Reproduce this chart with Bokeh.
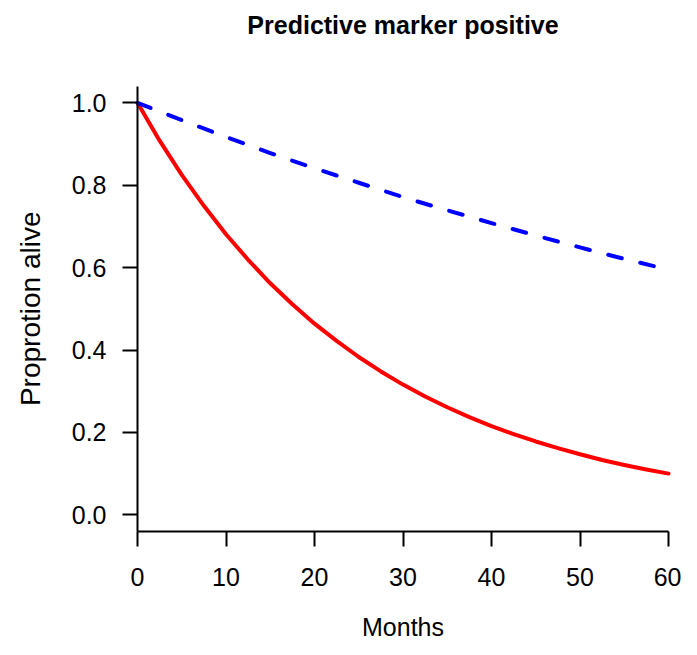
import math
from bokeh.plotting import figure
from bokeh.models import Range1d, FixedTicker, PrintfTickFormatter, Label
from bokeh.embed import file_html
from bokeh.resources import INLINE

# --- data ---
months_red = [0, 2.5, 5, 7.5, 10, 12.5, 15, 17.5, 20, 22.5, 25, 27.5, 30,
              32.5, 35, 37.5, 40, 42.5, 45, 47.5, 50, 52.5, 55, 57.5, 60]
alive_red = [1.000, 0.908, 0.825, 0.750, 0.681, 0.619, 0.562, 0.511, 0.464,
             0.422, 0.383, 0.348, 0.316, 0.287, 0.261, 0.237, 0.215, 0.196,
             0.178, 0.162, 0.147, 0.133, 0.121, 0.110, 0.100]
months_blue = [0, 5, 10, 15, 20, 25, 30, 35, 40, 45, 50, 55, 60]
alive_blue = [1.000, 0.958, 0.917, 0.878, 0.841, 0.806, 0.771, 0.739, 0.708,
              0.678, 0.649, 0.621, 0.595]
x_ticks = [0, 10, 20, 30, 40, 50, 60]
y_ticks = [0.0, 0.2, 0.4, 0.6, 0.8, 1.0]

title_text = "Predictive marker positive"
x_label = "Months"
y_label = "Proprotion alive"

FONT = "Liberation Sans"
W, H = 681, 639

# plot-region geometry in pixels (canvas coordinates)
X0_PX, X60_PX = 137.0, 668.0        # months 0 and 60
Y0_PX, Y1_PX = 514.3, 102.3         # proportion 0.0 and 1.0
sx = (X60_PX - X0_PX) / 60.0        # px per month
sy = (Y0_PX - Y1_PX) / 1.0          # px per unit

def xd(px):   # canvas px -> month
    return (px - X0_PX) / sx

def yd(py):   # canvas px (from top) -> proportion
    return (Y0_PX - py) / sy

REG_BOTTOM = -0.04
REG_TOP = 1.04

p = figure(width=W, height=H, output_backend="svg", toolbar_location=None,
           x_range=Range1d(xd(0), xd(W)), y_range=Range1d(yd(H), yd(0)),
           min_border_left=0, min_border_right=0,
           min_border_top=0, min_border_bottom=0)

p.outline_line_color = None
p.xgrid.visible = False
p.ygrid.visible = False
p.background_fill_color = "white"
p.border_fill_color = "white"

p.line(months_red, alive_red, line_color="#FF0000", line_width=4,
       line_cap="round", line_join="round")
p.line(months_blue, alive_blue, line_color="#0000FF", line_width=4,
       line_dash="14 19", line_cap="round", line_join="round")

# axes (L-shaped box like R's bty="l")
xa = p.xaxis[0]
ya = p.yaxis[0]
xa.fixed_location = REG_BOTTOM
ya.fixed_location = 0
xa.bounds = (0, 60)
ya.bounds = (REG_BOTTOM, REG_TOP)

for ax in (xa, ya):
    ax.axis_line_width = 2
    ax.axis_line_color = "black"
    ax.major_tick_line_width = 2
    ax.major_tick_line_color = "black"
    ax.major_tick_in = 0
    ax.major_tick_out = 15
    ax.minor_tick_line_color = None
    ax.major_label_text_font = FONT
    ax.major_label_text_font_size = "25px"
    ax.major_label_text_color = "black"

xa.ticker = FixedTicker(ticks=x_ticks)
xa.formatter = PrintfTickFormatter(format="%d")
xa.major_label_standoff = 22

ya.ticker = FixedTicker(ticks=y_ticks)
ya.formatter = PrintfTickFormatter(format="%.1f")
ya.major_label_orientation = "horizontal"
ya.major_label_standoff = 16

# title
p.add_layout(Label(x=30, y=yd(24), text=title_text, text_font=FONT,
                   text_font_size="25px", text_font_style="bold",
                   text_color="black", text_align="center",
                   text_baseline="alphabetic"))
# x axis title
p.add_layout(Label(x=30, y=yd(626), text=x_label, text_font=FONT,
                   text_font_size="25px", text_color="black",
                   text_align="center", text_baseline="alphabetic"))
# y axis title
p.add_layout(Label(x=xd(30), y=0.5, text=y_label, text_font=FONT,
                   text_font_size="28px", text_color="black",
                   text_align="center", text_baseline="alphabetic",
                   angle=math.pi / 2))

open("out.html", "w").write(file_html(p, INLINE))
